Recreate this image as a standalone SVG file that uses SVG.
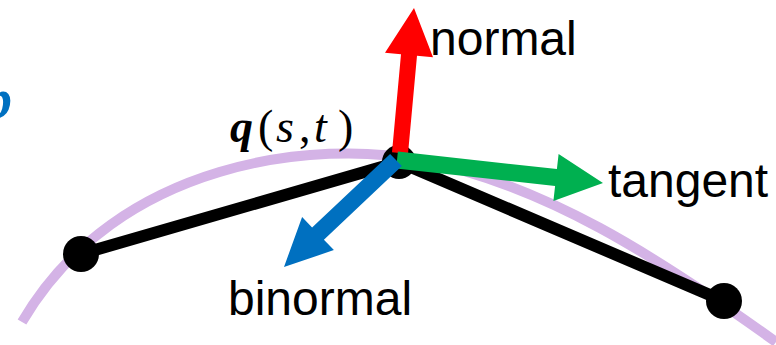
<svg xmlns="http://www.w3.org/2000/svg" width="776" height="345" viewBox="0 0 776 345">
  <style>
    .lbl { font-family: "Liberation Sans", Arial, sans-serif; font-size: 48px; fill: #000; }
    .math { font-family: "Liberation Serif", "Times New Roman", serif; font-size: 46px; fill: #000; }
    .curve { fill: none; stroke: #D4B3E6; stroke-width: 10; }
    .edge { fill: none; stroke: #000; stroke-width: 12; stroke-linecap: round; }
    .node { fill: #000; }
  </style>
  <rect width="776" height="345" fill="#fff"/>
  <g id="curve">
    <path class="curve" d="M 22 322 C 118 158, 320 140, 420 160 C 545 185, 655 255, 776 342"/>
  </g>
  <text x="-16" y="118" font-family="Liberation Serif, serif" font-size="56" font-weight="bold" font-style="italic" fill="#0070C0">p</text>
  <g id="connectors">
    <line class="edge" x1="81" y1="254" x2="399" y2="162"/>
    <line class="edge" x1="399" y1="162" x2="724" y2="301"/>
  </g>
  <g id="node-left"><circle class="node" cx="81" cy="254" r="18"/></g>
  <g id="node-right"><circle class="node" cx="724" cy="301" r="18"/></g>
  <g id="node-center"><circle class="node" cx="399" cy="162" r="17"/></g>
  <g id="normal">
    <polygon fill="#FF0000" points="392,152.2 401,54.2 385,52.7 414,8 433,57.3 417,55.8 408,153.8"/>
    <text class="lbl" x="430" y="55">normal</text>
  </g>
  <g id="tangent">
    <polygon fill="#00B050" points="397.9,151.6 556.9,169.1 558.6,154 603,183 553.4,201 555.1,186 396.1,168.4"/>
    <text class="lbl" x="608" y="197">tangent</text>
  </g>
  <g id="binormal">
    <polygon fill="#0070C0" points="390.1,153.9 312.1,227.4 302.1,216.9 284,267 333.9,250.1 323.9,239.7 401.9,166.1"/>
    <text class="lbl" x="228" y="315">binormal</text>
  </g>
  <g id="label-q">
    <text class="math" y="142"><tspan x="230" font-weight="bold" font-style="italic">q</tspan><tspan x="258">(</tspan><tspan x="276" font-style="italic">s</tspan><tspan x="299">,</tspan><tspan x="314" font-style="italic">t</tspan><tspan x="338">)</tspan></text>
  </g>
</svg>
